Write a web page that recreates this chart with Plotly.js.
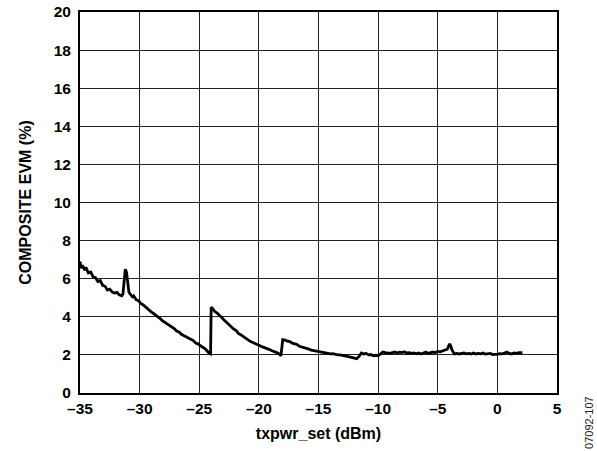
<!DOCTYPE html>
<html>
<head>
<meta charset="utf-8">
<script src="https://cdn.plot.ly/plotly-3.0.1.min.js"></script>
<style>html,body{margin:0;padding:0;background:#fff;}#chart{width:597px;height:451px;}</style>
</head>
<body>
<div id="chart"></div>
<script>
const txpwr = [-35.0,-34.9,-34.8,-34.6,-34.5,-34.3,-34.1,-33.9,-33.7,-33.5,-33.3,-33.1,-32.9,-32.7,-32.5,-32.3,-32.1,-31.9,-31.7,-31.5,-31.4,-31.3,-31.2,-31.1,-31.0,-30.9,-30.8,-30.6,-30.5,-30.3,-30.1,-29.9,-29.7,-29.5,-29.3,-29.1,-28.9,-28.7,-28.5,-28.3,-28.1,-27.9,-27.7,-27.5,-27.3,-27.1,-26.9,-26.7,-26.5,-26.3,-26.1,-25.9,-25.7,-25.5,-25.3,-25.1,-24.9,-24.7,-24.5,-24.3,-24.2,-24.05,-24.0,-23.9,-23.7,-23.5,-23.3,-23.1,-22.9,-22.7,-22.5,-22.3,-22.1,-21.9,-21.7,-21.5,-21.3,-21.1,-20.9,-20.7,-20.5,-20.3,-20.1,-19.9,-19.7,-19.5,-19.3,-19.1,-18.9,-18.7,-18.5,-18.3,-18.15,-18.0,-17.8,-17.6,-17.4,-17.2,-17.0,-16.8,-16.6,-16.4,-16.2,-16.0,-15.8,-15.6,-15.4,-15.2,-15.0,-14.8,-14.6,-14.4,-14.2,-14.0,-13.8,-13.6,-13.4,-13.2,-13.0,-12.8,-12.6,-12.4,-12.2,-12.0,-11.8,-11.6,-11.4,-11.2,-11.0,-10.8,-10.6,-10.4,-10.2,-10.0,-9.8,-9.6,-9.4,-9.2,-9.0,-8.8,-8.6,-8.4,-8.2,-8.0,-7.8,-7.6,-7.4,-7.2,-7.0,-6.8,-6.6,-6.4,-6.2,-6.0,-5.8,-5.6,-5.4,-5.2,-5.0,-4.8,-4.6,-4.4,-4.2,-4.1,-4.0,-3.9,-3.8,-3.6,-3.4,-3.2,-3.0,-2.8,-2.6,-2.4,-2.2,-2.0,-1.8,-1.6,-1.4,-1.2,-1.0,-0.8,-0.6,-0.4,-0.2,0.0,0.2,0.4,0.6,0.8,1.0,1.2,1.4,1.6,1.8,2.0,2.1];
const evm = [6.90,6.55,6.70,6.45,6.60,6.30,6.35,6.10,6.05,5.85,5.90,5.65,5.60,5.40,5.45,5.30,5.25,5.28,5.15,5.10,5.20,5.70,6.50,6.35,5.80,5.30,5.20,5.05,5.10,4.90,4.85,4.70,4.62,4.50,4.38,4.30,4.20,4.12,4.00,3.92,3.80,3.72,3.60,3.55,3.45,3.38,3.25,3.20,3.08,3.02,2.95,2.88,2.80,2.75,2.62,2.58,2.48,2.40,2.32,2.18,2.10,2.05,4.50,4.45,4.28,4.20,4.05,3.95,3.82,3.70,3.55,3.48,3.35,3.28,3.12,3.05,2.95,2.88,2.80,2.70,2.65,2.58,2.55,2.48,2.42,2.38,2.35,2.28,2.22,2.18,2.12,2.05,1.95,2.80,2.78,2.72,2.70,2.62,2.60,2.55,2.45,2.42,2.38,2.32,2.30,2.25,2.22,2.20,2.18,2.15,2.12,2.10,2.08,2.05,2.06,2.02,2.00,2.00,1.96,1.95,1.92,1.90,1.86,1.82,1.80,1.92,2.10,2.05,2.08,2.00,2.02,1.95,1.98,1.95,2.05,2.15,2.12,2.10,2.08,2.12,2.15,2.10,2.14,2.12,2.16,2.10,2.12,2.08,2.10,2.06,2.10,2.05,2.08,2.15,2.08,2.12,2.15,2.12,2.18,2.16,2.20,2.22,2.30,2.45,2.58,2.45,2.25,2.05,2.08,2.05,2.08,2.10,2.06,2.08,2.05,2.10,2.05,2.08,2.06,2.10,2.04,2.05,2.08,2.02,2.05,2.04,2.06,2.05,2.10,2.15,2.08,2.05,2.10,2.08,2.12,2.10,2.12];
const xTickVals = [-35,-30,-25,-20,-15,-10,-5,0,5];
const xTickText = ['–35','–30','–25','–20','–15','–10','–5','0','5'];
const yTickVals = [0,2,4,6,8,10,12,14,16,18,20];
const yTickText = ['0','2','4','6','8','10','12','14','16','18','20'];

const fontFam = 'Liberation Sans, Arial, sans-serif';
const trace = {
  x: txpwr, y: evm, type: 'scatter', mode: 'lines',
  line: {color: '#000', width: 2.8}, hoverinfo: 'skip'
};
const axisCommon = {
  showline: true, mirror: true, linecolor: '#000', linewidth: 2,
  showgrid: true, gridcolor: '#222', gridwidth: 1,
  zeroline: false, ticks: '', tickmode: 'array',
  tickfont: {family: fontFam, size: 15.5, color: '#000', weight: 'bold'}
};
const layout = {
  width: 597, height: 451,
  margin: {l: 80, r: 40, t: 12, b: 58},
  paper_bgcolor: '#fff', plot_bgcolor: '#fff',
  showlegend: false,
  xaxis: Object.assign({}, axisCommon, {
    range: [-35, 5], tickvals: xTickVals, ticktext: xTickText,
    automargin: false,
    title: {text: 'txpwr_set (dBm)', font: {family: fontFam, size: 16, color: '#000', weight: 'bold'}, standoff: 12}
  }),
  yaxis: Object.assign({}, axisCommon, {
    range: [0, 20], tickvals: yTickVals, ticktext: yTickText,
    automargin: false, ticklabelstandoff: 4,
    title: {text: 'COMPOSITE EVM (%)', font: {family: fontFam, size: 16, color: '#000', weight: 'bold'}, standoff: 18}
  }),
  annotations: [{
    text: '07092-107', xref: 'paper', yref: 'paper', x: 1.067, y: -0.076,
    xanchor: 'center', yanchor: 'middle', showarrow: false, textangle: -90,
    font: {family: fontFam, size: 11, color: '#222'}
  }]
};
Plotly.newPlot('chart', [trace], layout, {displayModeBar: false, staticPlot: true});
</script>
</body>
</html>
